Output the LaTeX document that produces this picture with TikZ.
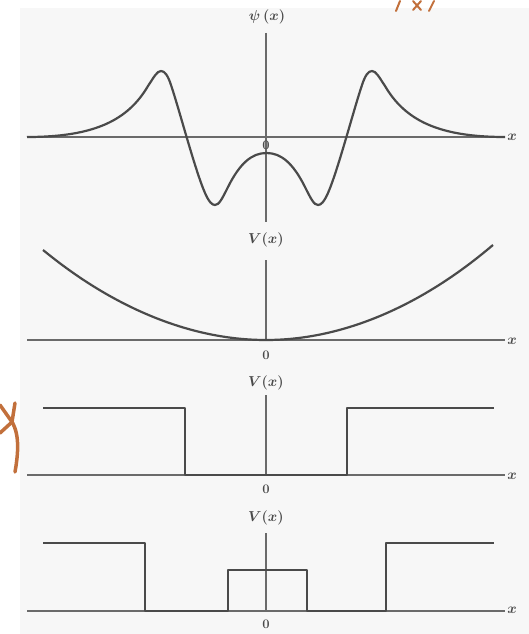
\documentclass[tikz,border=0pt]{standalone}
\usepackage{tikz}
\definecolor{ink}{HTML}{4A4A4A}
\definecolor{axisc}{HTML}{6A6A6A}
\definecolor{paper}{HTML}{F7F7F7}
\definecolor{smudge}{HTML}{C2703C}
\begin{document}
\begin{tikzpicture}[x=1pt,y=-1pt,
  curve/.style={draw=ink,line width=2.2pt,line join=round},
  axisline/.style={draw=axisc,line width=1.3pt},
  lbl/.style={text=ink,font=\fontsize{15}{17}\selectfont\boldmath,inner sep=0pt},
  zero/.style={text=ink,font=\fontsize{13}{15}\selectfont\bfseries,inner sep=0pt},
  xlbl/.style={text=ink,font=\fontsize{15}{17}\selectfont\boldmath,inner sep=0pt},
  smudgeline/.style={draw=smudge,line width=3.5pt,line cap=round}]
\useasboundingbox (0,0) rectangle (529,634);
\fill[paper] (20,8) rectangle (529,634);

% ---- panel 1: psi(x)
\node[lbl] (psi) at (267,17) {$\psi\,(x)$};
\coordinate (a1t) at (266,33); \coordinate (a1b) at (266,222);
\draw[axisline] (a1t) -- (a1b);
\coordinate (h1l) at (27,137); \coordinate (h1r) at (505,137);
\draw[axisline] (h1l) -- (h1r);
\node[xlbl] (x1) at (512,137) {$x$};
\node[zero] (o1) at (266,145) {0};
\draw[curve] (27,137) .. controls (95,137) and (128,120) .. (148,86)
  .. controls (154,77) and (157,71) .. (161,71)
  .. controls (165,71) and (168,76) .. (171,85)
  .. controls (180,112) and (195,170) .. (205,193)
  .. controls (209,202) and (212,205) .. (215,205)
  .. controls (219,205) and (222,199) .. (228,187)
  .. controls (240,163) and (252,153) .. (266.5,153)
  .. controls (281,153) and (293,163) .. (305,187)
  .. controls (311,199) and (314,205) .. (318,205)
  .. controls (321,205) and (324,202) .. (328,193)
  .. controls (338,170) and (353,112) .. (362,85)
  .. controls (365,76) and (368,71) .. (372,71)
  .. controls (376,71) and (379,77) .. (385,86)
  .. controls (405,120) and (438,137) .. (505,137);

% ---- panel 2: harmonic well
\node[lbl] (v2) at (266,240) {$V(x)$};
\coordinate (a2t) at (266,260); \coordinate (a2b) at (266,340);
\draw[axisline] (a2t) -- (a2b);
\coordinate (h2l) at (27,340); \coordinate (h2r) at (505,340);
\draw[axisline] (h2l) -- (h2r);
\node[xlbl] (x2) at (512,341) {$x$};
\node[zero] (o2) at (266,355) {0};
\draw[curve] (43,250) parabola bend (266,340) (493,245);

% ---- panel 3: square well
\node[lbl] (v3) at (266,383) {$V(x)$};
\coordinate (a3t) at (266,395); \coordinate (a3b) at (266,475);
\draw[axisline] (a3t) -- (a3b);
\coordinate (h3l) at (27,475); \coordinate (h3r) at (505,475);
\draw[axisline] (h3l) -- (h3r);
\node[xlbl] (x3) at (512,476) {$x$};
\node[zero] (o3) at (266,489) {0};
\draw[curve] (43,408) -- (185,408) -- (185,475) -- (347,475) -- (347,408) -- (494,408);

% ---- panel 4: double well
\node[lbl] (v4) at (266,518) {$V(x)$};
\coordinate (a4t) at (266,533); \coordinate (a4b) at (266,611);
\draw[axisline] (a4t) -- (a4b);
\coordinate (h4l) at (27,611); \coordinate (h4r) at (505,611);
\draw[axisline] (h4l) -- (h4r);
\node[xlbl] (x4) at (512,610) {$x$};
\node[zero] (o4) at (266,624) {0};
\draw[curve] (43,543) -- (145,543) -- (145,611) -- (228,611) -- (228,570)
  -- (307,570) -- (307,611) -- (386,611) -- (386,543) -- (494,543);

% ---- orange scan smudges
\draw[smudgeline] (0,405) -- (12,422) -- (0,433);
\draw[smudgeline] (15,403) -- (12,422) .. controls (20,435) and (18,455) .. (15,472);
\draw[smudgeline,line width=2pt] (396,11) -- (400,1);
\draw[smudgeline,line width=2pt] (413,10) -- (421,1);
\draw[smudgeline,line width=2pt] (413,1) -- (421,10);
\draw[smudgeline,line width=2pt] (429,11) -- (434,1);
\end{tikzpicture}
\end{document}
